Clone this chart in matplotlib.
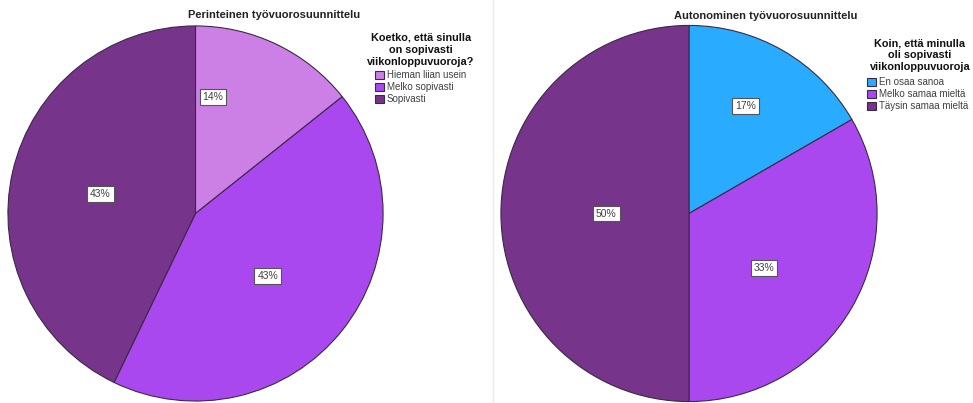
import numpy as np
import matplotlib
matplotlib.use("Agg")
import matplotlib.pyplot as plt
from matplotlib.lines import Line2D

plt.rcParams['font.family'] = ['Liberation Sans', 'DejaVu Sans']

# Perinteinen työvuorosuunnittelu
left_title = "Perinteinen työvuorosuunnittelu"
left_legend_title = "Koetko, että sinulla\non sopivasti\nviikonloppuvuoroja?"
left_labels = ["Hieman liian usein", "Melko sopivasti", "Sopivasti"]
left_values = [14.3, 42.85, 42.85]
left_pct = ["14%", "43%", "43%"]
left_colors = ["#CC80E6", "#AA48F0", "#76348A"]

# Autonominen työvuorosuunnittelu
right_title = "Autonominen työvuorosuunnittelu"
right_legend_title = "Koin, että minulla\noli sopivasti\nviikonloppuvuoroja"
right_labels = ["En osaa sanoa", "Melko samaa mieltä", "Täysin samaa mieltä"]
right_values = [16.67, 33.33, 50.0]
right_pct = ["17%", "33%", "50%"]
right_colors = ["#29ABFF", "#AA48F0", "#76348A"]

# label box positions inside the pie (unit radius)
left_pct_pos = [(0.093, 0.623), (0.385, -0.332), (-0.507, 0.103)]
right_pct_pos = [(0.302, 0.570), (0.398, -0.289), (-0.44, 0.0)]

W, H = 973, 403
fig = plt.figure(figsize=(W / 100, H / 100), dpi=100)


def px_axes(cx, cy, r):
    # axes square around a pie centre given in pixels (top-left origin)
    return fig.add_axes([(cx - r) / W, (H - cy - r) / H, 2 * r / W, 2 * r / H])


def draw_pie(ax, values, colors, pct, pos):
    wedges, _ = ax.pie(values, colors=colors, startangle=90, counterclock=False,
                       wedgeprops=dict(edgecolor="#3b2a44", linewidth=0.8))
    ax.set_xlim(-1.005, 1.005)
    ax.set_ylim(-1.005, 1.005)
    for t, (x, y) in zip(pct, pos):
        ax.text(x, y, t, ha="center", va="center", fontsize=7.5, color="#404040",
                bbox=dict(boxstyle="square,pad=0.28", fc="white", ec="#555555", lw=0.8))
    return wedges


def draw_legend(wedges, labels, title, tx, ty, lx, ly):
    # legend heading drawn separately so its gap to the entries can be set
    fig.text(tx / W, 1 - ty / H, title, ha="center", va="top", ma="center",
             fontsize=7.8, fontweight="bold", linespacing=1.22, color="#111111")
    leg = fig.legend(wedges, labels, loc="upper left",
                     bbox_to_anchor=(lx / W, 1 - ly / H), frameon=False,
                     fontsize=7, handlelength=0.9, handleheight=0.9,
                     handletextpad=0.3, labelspacing=0.2, borderpad=0,
                     borderaxespad=0)
    for t in leg.get_texts():
        t.set_color("#404040")
    return leg


ax1 = px_axes(195.5, 213.5, 188.5)
w1 = draw_pie(ax1, left_values, left_colors, left_pct, left_pct_pos)
fig.text(274 / W, 1 - 15 / H, left_title, ha="center", va="center",
         fontsize=8, fontweight="bold", color="#222222")
draw_legend(w1, left_labels, left_legend_title, 421, 33, 375, 70)

ax2 = px_axes(689, 213.5, 189)
w2 = draw_pie(ax2, right_values, right_colors, right_pct, right_pct_pos)
fig.text(766 / W, 1 - 16 / H, right_title, ha="center", va="center",
         fontsize=8, fontweight="bold", color="#222222")
draw_legend(w2, right_labels, right_legend_title, 920, 38, 867, 77)

# faint divider between the two panels
fig.add_artist(Line2D([493 / W, 493 / W], [0, 1], color="#ececec", lw=1))

fig.savefig("out.png", dpi=100)
